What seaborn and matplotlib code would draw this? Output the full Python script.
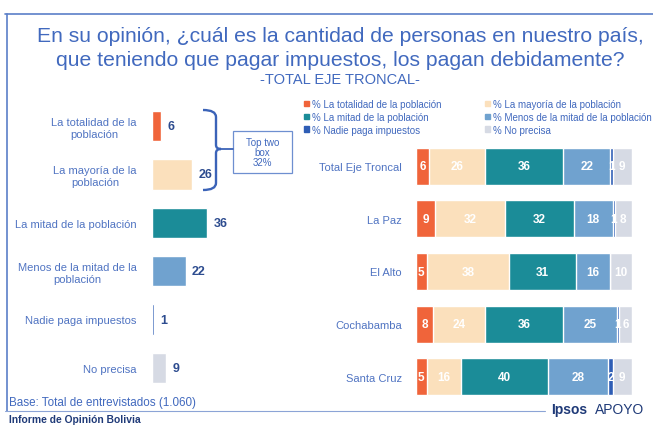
import numpy as np
import pandas as pd
import matplotlib.pyplot as plt
import seaborn as sns
from matplotlib.path import Path
from matplotlib.patches import PathPatch, Rectangle

sns.set_style("white")
plt.rcParams["font.family"] = ["Liberation Sans", "DejaVu Sans"]

# --------- DATA ---------
answers = ["La totalidad de la\npoblación", "La mayoría de la\npoblación",
           "La mitad de la población", "Menos de la mitad de la\npoblación",
           "Nadie paga impuestos", "No precisa"]
total_values = [6, 26, 36, 22, 1, 9]

legend_labels = ["% La totalidad de la población", "% La mayoría de la población",
                 "% La mitad de la población", "% Menos de la mitad de la población",
                 "% Nadie paga impuestos", "% No precisa"]
regions = ["Total Eje Troncal", "La Paz", "El Alto", "Cochabamba", "Santa Cruz"]
totalidad = [6, 9, 5, 8, 5]
mayoria = [26, 32, 38, 24, 16]
mitad = [36, 32, 31, 36, 40]
menos = [22, 18, 16, 25, 28]
nadie = [1, 1, 0, 1, 2]
no_precisa = [9, 8, 10, 6, 9]

colors = ["#F0643A", "#FBE0BC", "#1B8C98", "#70A2CF", "#2E5DB5", "#D6DAE4"]
blue = "#4169BE"
W, H = 653, 427

fig = plt.figure(figsize=(W / 100, H / 100), dpi=100)

def px(x0, y0, x1, y1):
    return [x0 / W, 1 - y1 / H, (x1 - x0) / W, (y1 - y0) / H]

# overlay for frame, title and notes (pixel coords)
ov = fig.add_axes([0, 0, 1, 1])
ov.set_xlim(0, W)
ov.set_ylim(H, 0)
ov.axis("off")

ov.plot([5, W], [15, 15], color="#5B7FC8", lw=1.2)
ov.plot([7, 7], [15, 412], color="#5B7FC8", lw=1.2)
ov.plot([5, 545], [412, 412], color="#8CA4D6", lw=0.8)

ov.text(340, 36, "En su opinión, ¿cuál es la cantidad de personas en nuestro país,",
        ha="center", va="center", fontsize=15.2, color=blue)
ov.text(340, 60, "que teniendo que pagar impuestos, los pagan debidamente?",
        ha="center", va="center", fontsize=15.2, color=blue)
ov.text(340, 80, "-TOTAL EJE TRONCAL-", ha="center", va="center",
        fontsize=10.5, color=blue)

ov.text(9, 403, "Base: Total de entrevistados (1.060)", ha="left", va="center",
        fontsize=8.4, color=blue)
ov.text(9, 420, "Informe de Opinión Bolivia", ha="left", va="center",
        fontsize=7.4, color="#1F3A78", fontweight="bold")
ov.text(551, 410, "Ipsos", ha="left", va="center", fontsize=10,
        color="#1F3A78", fontweight="bold")
ov.text(595, 410, "APOYO", ha="left", va="center", fontsize=10, color="#1F3A78")

# curly brace + top two box
bx = 216
verts = [(203, 111), (bx, 111), (bx, 118), (bx, 125),
         (bx, 146), (bx, 150), (bx + 5, 150),
         (bx, 150), (bx, 154), (bx, 176),
         (bx, 184), (bx, 191), (203, 191)]
codes = [Path.MOVETO, Path.CURVE3, Path.CURVE3, Path.LINETO,
         Path.LINETO, Path.CURVE3, Path.CURVE3,
         Path.CURVE3, Path.CURVE3, Path.LINETO,
         Path.LINETO, Path.CURVE3, Path.CURVE3]
ov.add_patch(PathPatch(Path(verts, codes), fill=False, edgecolor="#3B63B8", lw=1.7))
ov.plot([bx + 5, 233], [150, 150], color="#3B63B8", lw=1.3)
ov.add_patch(Rectangle((233, 132), 59, 42, fill=False, edgecolor="#6E8FD0", lw=0.9))
ov.text(262.5, 153, "Top two\nbox\n32%", ha="center", va="center",
        fontsize=7, color=blue, linespacing=1.05)

# --------- LEFT: TOTAL DISTRIBUTION ---------
axl = fig.add_axes(px(152, 103, 300, 393))
axl.patch.set_visible(False)
df_l = pd.DataFrame({"answer": answers, "value": total_values})
sns.barplot(data=df_l, x="value", y="answer", hue="answer", palette=colors,
            orient="h", width=0.63, saturation=1, legend=False, ax=axl)
axl.set_xlim(0, 148 / 1.53)
axl.set_ylim(5.5, -0.5)
axl.set_xlabel("")
axl.set_ylabel("")
axl.set_xticks([])
sns.despine(ax=axl, left=True, bottom=True)
axl.tick_params(axis="y", length=0, pad=11, labelsize=8, labelcolor="#5074C2")
for t in axl.get_yticklabels():
    t.set_multialignment("center")
for i, v in enumerate(total_values):
    axl.text(v + 4.2, i, str(v), ha="left", va="center", fontsize=9,
             fontweight="bold", color="#2D4C8F")

# --------- RIGHT: STACKED BY REGION ---------
axr = fig.add_axes(px(416, 141, 632, 404))
axr.patch.set_visible(False)
segments = [totalidad, mayoria, mitad, menos, nadie, no_precisa]
cum = np.cumsum(np.array(segments), axis=0)
for k in range(len(segments) - 1, -1, -1):
    sns.barplot(x=cum[k], y=regions, orient="h", color=colors[k],
                width=0.7, saturation=1, ax=axr)
for i in range(len(regions)):
    left = 0
    for k, seg in enumerate(segments):
        v = seg[i]
        if v > 0:
            axr.text(left + v / 2, i, str(v), ha="center", va="center",
                     fontsize=8.5, fontweight="bold", color="white")
        left += v
axr.set_xlim(0, 100)
axr.set_ylim(4.5, -0.5)
axr.set_xlabel("")
axr.set_ylabel("")
axr.set_xticks([])
sns.despine(ax=axr, left=True, bottom=True)
axr.tick_params(axis="y", length=0, pad=10, labelsize=8, labelcolor="#5074C2")

# legend row-major order
handles = [Rectangle((0, 0), 1, 1, color=c) for c in colors]
order = [0, 2, 4, 1, 3, 5]
leg = fig.legend([handles[i] for i in order], [legend_labels[i] for i in order],
                 ncol=2, loc="upper left", bbox_to_anchor=(304 / W, 1 - 100 / H),
                 frameon=False, fontsize=7, handlelength=0.55, handleheight=0.55,
                 handletextpad=0.3, columnspacing=4.4, labelspacing=0.3,
                 borderpad=0, borderaxespad=0)
for t in leg.get_texts():
    t.set_color(blue)

fig.savefig("out.png", dpi=100)
